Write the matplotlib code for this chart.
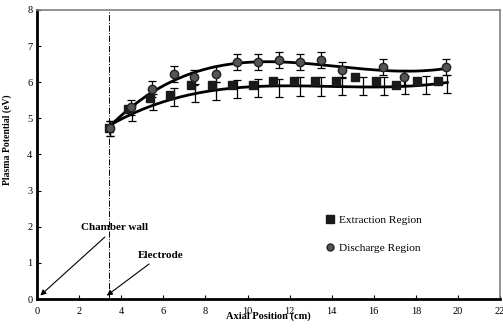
import numpy as np
import matplotlib
matplotlib.use("Agg")
import matplotlib.pyplot as plt
from matplotlib.lines import Line2D

plt.rcParams['font.family'] = ['Liberation Serif', 'DejaVu Serif']

# Discharge region (circles)
dis_x = [3.45, 4.45, 5.45, 6.5, 7.45, 8.5, 9.5, 10.5, 11.5, 12.5, 13.5, 14.5, 16.45, 17.45, 19.45]
dis_y = [4.72, 5.30, 5.82, 6.23, 6.13, 6.22, 6.55, 6.55, 6.61, 6.55, 6.62, 6.33, 6.43, 6.13, 6.43]
dis_err = [0.2, 0.22, 0.22, 0.22, 0.22, 0.22, 0.22, 0.22, 0.22, 0.22, 0.22, 0.22, 0.22, 0.22, 0.22]

# Extraction region (squares) and where its error bars sit
ext_x = [3.4, 4.3, 5.35, 6.3, 7.3, 8.3, 9.25, 10.25, 11.2, 12.2, 13.2, 14.2, 15.1, 16.1, 17.05, 18.05, 19.05]
ext_y = [4.72, 5.25, 5.55, 5.64, 5.93, 5.93, 5.93, 5.93, 6.02, 6.02, 6.02, 6.02, 6.13, 6.02, 5.93, 6.02, 6.02]
ext_bar_x = [3.45, 4.5, 5.5, 6.5, 7.5, 8.5, 9.5, 10.5, 11.5, 12.5, 13.5, 14.5, 15.5, 16.5, 17.5, 18.5, 19.5]
ext_bar_y = [4.72, 5.15, 5.45, 5.6, 5.7, 5.75, 5.8, 5.85, 5.85, 5.88, 5.88, 5.9, 5.9, 5.9, 5.92, 5.92, 5.95]
ext_err = [0.2, 0.22, 0.22, 0.25, 0.25, 0.25, 0.25, 0.25, 0.25, 0.25, 0.25, 0.25, 0.25, 0.25, 0.25, 0.25, 0.25]

electrode_x = 3.4

fig = plt.figure(figsize=(5.03, 3.28), dpi=100)
ax = fig.add_axes([0.074, 0.088, 0.920, 0.882])

# trend lines (polynomial fits of the data)
xs = np.linspace(3.4, 19.5, 200)
p_dis = np.polyfit(dis_x, dis_y, 4)
p_ext = np.polyfit(ext_bar_x, ext_bar_y, 3)
ax.plot(xs, np.polyval(p_dis, xs), color='black', lw=2, zorder=2)
ax.plot(xs, np.polyval(p_ext, xs), color='black', lw=2, zorder=2)

ax.errorbar(ext_bar_x, ext_bar_y, yerr=ext_err, fmt='none', ecolor='black',
            elinewidth=0.9, capsize=3, capthick=0.9, zorder=3)
ax.errorbar(dis_x, dis_y, yerr=dis_err, fmt='none', ecolor='black',
            elinewidth=0.9, capsize=3, capthick=0.9, zorder=3)
ax.plot(ext_x, ext_y, 's', color='#1a1a1a', markersize=6, zorder=4, linestyle='none')
ax.plot(dis_x, dis_y, 'o', color='#555555', markeredgecolor='#222222',
        markersize=6, zorder=5, linestyle='none')

ax.axvline(electrode_x, color='black', lw=0.7, linestyle='-.', zorder=1)

ax.annotate('Chamber wall', xy=(0.05, 0.05), xytext=(2.1, 1.9),
            fontsize=8, fontweight='bold',
            arrowprops=dict(arrowstyle='-|>', color='black', lw=0.8, mutation_scale=8))
ax.annotate('Electrode', xy=(3.2, 0.05), xytext=(4.8, 1.15),
            fontsize=8, fontweight='bold',
            arrowprops=dict(arrowstyle='-|>', color='black', lw=0.8, mutation_scale=8))

handles = [Line2D([], [], marker='s', color='#1a1a1a', linestyle='none', markersize=6),
           Line2D([], [], marker='o', color='#555555', markeredgecolor='#222222',
                  linestyle='none', markersize=5)]
ax.legend(handles, ['Extraction Region', 'Discharge Region'], loc='center left',
          bbox_to_anchor=(0.598, 0.225), frameon=False, fontsize=8.2,
          handletextpad=0.3, labelspacing=1.55, handlelength=1)

ax.set_xlim(0, 22)
ax.set_ylim(0, 8)
ax.set_xticks(range(0, 23, 2))
ax.set_yticks(range(0, 9))
ax.tick_params(direction='in', labelsize=7.5, length=3, width=0.8)
ax.tick_params(axis='x', pad=6)

for s in ['left', 'bottom']:
    ax.spines[s].set_linewidth(2)
    ax.spines[s].set_color('black')
for s in ['top', 'right']:
    ax.spines[s].set_linewidth(1.2)
    ax.spines[s].set_color('#808080')

ax.set_xlabel('Axial Position (cm)', fontsize=7.5, fontweight='bold', labelpad=-4)
ax.set_ylabel('Plasma Potential (eV)', fontsize=7, fontweight='bold')
ax.yaxis.set_label_coords(-0.054, 0.55)

fig.savefig('out.png', dpi=100)
